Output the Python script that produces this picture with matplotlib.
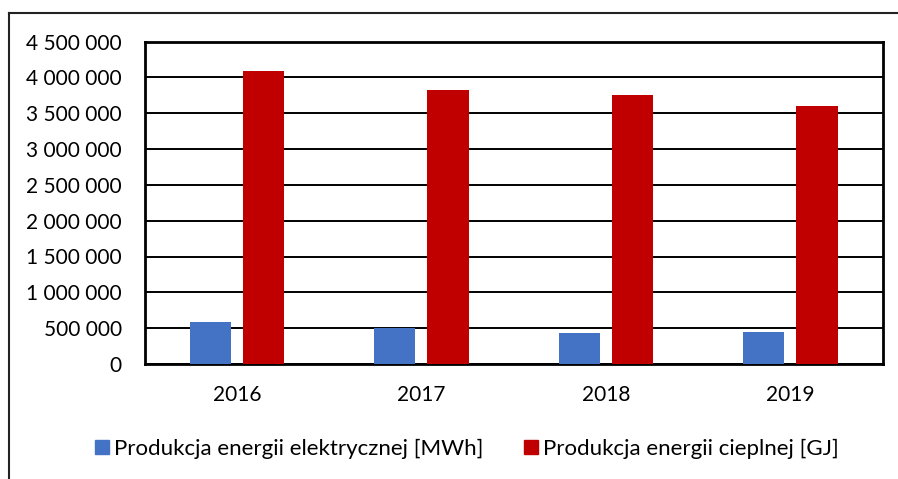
import matplotlib
matplotlib.use('Agg')
import matplotlib.pyplot as plt
from matplotlib.lines import Line2D
from matplotlib.patches import Patch
from matplotlib.ticker import FuncFormatter, MultipleLocator
import numpy as np

# dane
years = ['2016', '2017', '2018', '2019']
prod_elektr = [585000, 497000, 427000, 445000]        # MWh
prod_ciepl = [4095000, 3825000, 3751000, 3602000]     # GJ

labels = ['Produkcja energii elektrycznej [MWh]', 'Produkcja energii cieplnej [GJ]']
c_blue = '#4472C4'
c_red = '#C00000'

plt.rcParams['font.family'] = ['Lato', 'DejaVu Sans']

W, H = 898, 479
fig = plt.figure(figsize=(W / 100, H / 100), dpi=100, facecolor='white')
ax = fig.add_axes([144.7 / W, 1 - 364 / H, (882.7 - 144.7) / W, (364 - 41.5) / H])

x = np.arange(len(years))
bw = 0.223
off = 0.144
ax.bar(x - off, prod_elektr, bw, color=c_blue, zorder=3)
ax.bar(x + off, prod_ciepl, bw, color=c_red, zorder=3)

ax.set_xlim(-0.5, 3.5)
ax.set_ylim(0, 4500000)
ax.yaxis.set_major_locator(MultipleLocator(500000))
ax.yaxis.set_major_formatter(FuncFormatter(lambda v, p: f'{int(v):,}'.replace(',', ' ')))
ax.set_xticks(x)
ax.set_xticklabels(years)
ax.tick_params(axis='both', length=0, labelsize=15, colors='black')
ax.tick_params(axis='x', pad=15)
ax.tick_params(axis='y', pad=16.5)
ax.grid(axis='y', color='black', lw=1.4, zorder=1)
for s in ax.spines.values():
    s.set_linewidth(2)
    s.set_color('black')

# legenda
handles = [Patch(color=c_blue), Patch(color=c_red)]
fig.legend(handles, labels, loc='center', bbox_to_anchor=(467 / W, 1 - 449 / H),
           ncol=2, frameon=False, fontsize=16, handlelength=0.62, handleheight=0.62,
           handletextpad=0.25, columnspacing=1.8)

# ramka (widoczna tylko góra i lewa strona)
fig.add_artist(Line2D([9 / W, 1], [1 - 13 / H, 1 - 13 / H], color='#222222', lw=1.5))
fig.add_artist(Line2D([9 / W, 9 / W], [1 - 13 / H, 0], color='#222222', lw=1.5))

fig.savefig('out.png', dpi=100, facecolor='white')
